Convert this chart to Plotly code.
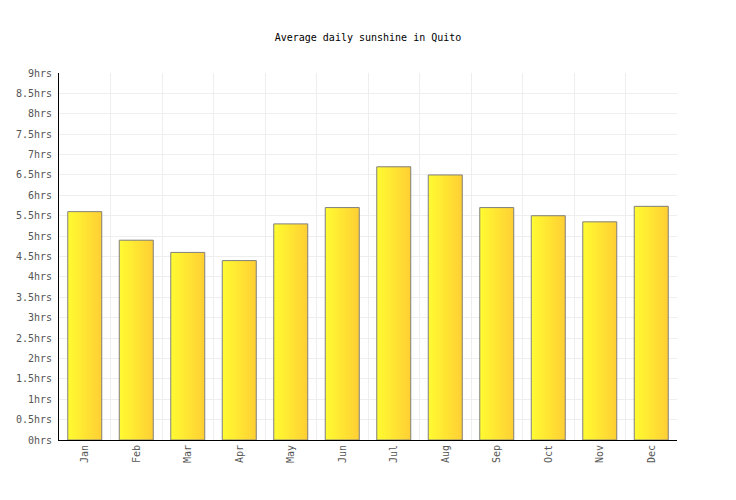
import plotly.graph_objects as go

# Average daily sunshine in Quito (hours)
months = ["Jan", "Feb", "Mar", "Apr", "May", "Jun",
          "Jul", "Aug", "Sep", "Oct", "Nov", "Dec"]
sunshine = [5.6, 4.9, 4.6, 4.4, 5.3, 5.7, 6.7, 6.5, 5.7, 5.5, 5.35, 5.73]

y_ticks = [i * 0.5 for i in range(19)]
y_labels = [f"{v:g}hrs" for v in y_ticks]

font_mono = "DejaVu Sans Mono"
bar_w = 0.66
n_slices = 16

fig = go.Figure()

# fake the left-to-right yellow gradient with thin overlaid bar slices
c0 = (255, 250, 50)
c1 = (255, 208, 52)
for i in range(n_slices):
    t = i / (n_slices - 1)
    col = tuple(round(a + (b - a) * t) for a, b in zip(c0, c1))
    w = bar_w / n_slices
    fig.add_trace(go.Bar(
        x=months, y=sunshine,
        width=w * 2 if i < n_slices - 1 else w,
        offset=-bar_w / 2 + i * w,
        marker=dict(color="rgb(%d,%d,%d)" % col, line=dict(width=0)),
        hoverinfo="skip", showlegend=False,
    ))

# outline on top
fig.add_trace(go.Bar(
    x=months, y=sunshine, width=bar_w,
    marker=dict(color="rgba(0,0,0,0)", line=dict(color="#808080", width=1)),
    hovertemplate="%{x}: %{y}hrs<extra></extra>", showlegend=False,
))

# page body has an 8px margin, so the margins are shifted to compensate
fig.update_layout(
    width=736, height=500,
    barmode="overlay",
    plot_bgcolor="white", paper_bgcolor="white",
    margin=dict(l=51, r=67, t=65, b=68, autoexpand=False),
    font=dict(family=font_mono, size=10, color="#555555"),
    title=dict(text="Average daily sunshine in Quito", x=0.5 - 8 / 736, xanchor="center",
               y=1 - 29 / 500, yanchor="middle", yref="container",
               font=dict(family=font_mono, size=10, color="#000000")),
)
fig.update_xaxes(
    showline=True, linecolor="#000000", linewidth=1,
    showgrid=True, gridcolor="#eeeeee", tickson="boundaries",
    ticks="", tickangle=-90, range=[-0.5, 11.5], automargin=False,
)
fig.update_yaxes(
    range=[0, 9], tickvals=y_ticks, ticktext=y_labels,
    showline=True, linecolor="#000000", linewidth=1,
    showgrid=True, gridcolor="#eeeeee", zeroline=False,
    ticks="outside", ticklen=4, tickcolor="white", automargin=False,
)

fig.write_html("out.html")
